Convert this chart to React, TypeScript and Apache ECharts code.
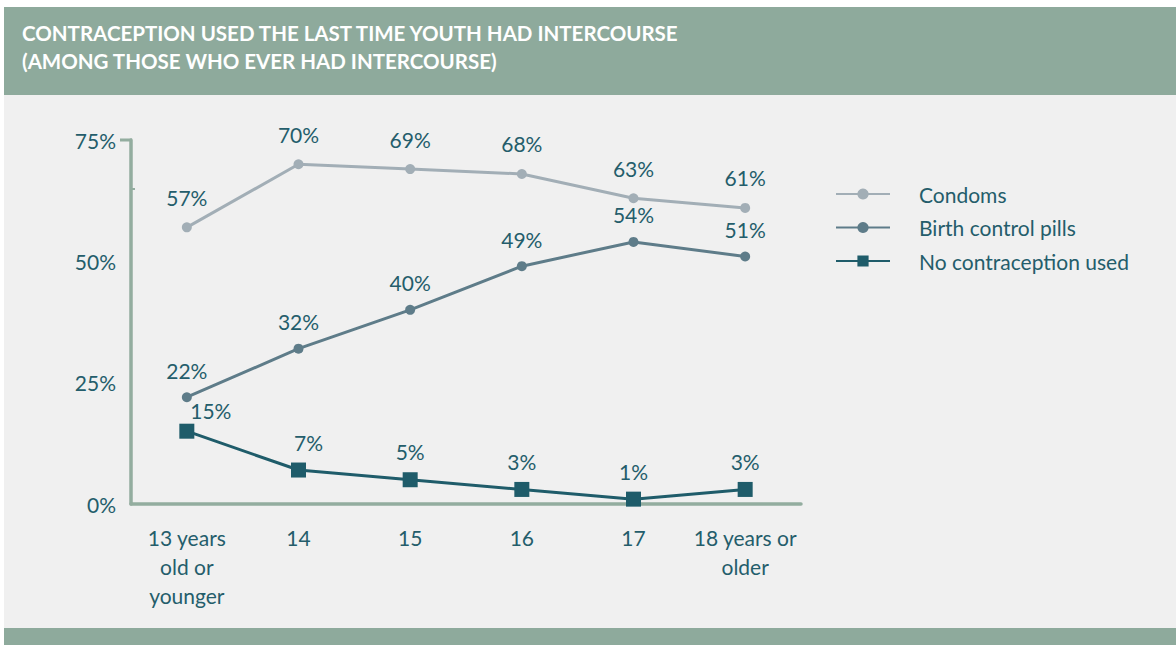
import React, { useEffect, useRef } from "react";
import * as echarts from "echarts";

const categories = ["13 years\nold or\nyounger", "14", "15", "16", "17", "18 years or\nolder"];
const condoms = [57, 70, 69, 68, 63, 61];
const birthControl = [22, 32, 40, 49, 54, 51];
const noContraception = [15, 7, 5, 3, 1, 3];
const yTicks = [0, 25, 50, 75];

const TEXT = "#245d6b";
const AXIS = "#93ad9f";
const FONT = "Lato, 'Open Sans', sans-serif";
const FS = 21;

export default function App() {
  const ref = useRef<HTMLDivElement>(null);
  useEffect(() => {
    if (!ref.current) return;
    const chart = echarts.init(ref.current, null, { renderer: "svg" });
    const label = (extra: any = {}) => ({
      show: true,
      position: "top",
      distance: 14,
      color: TEXT,
      fontSize: FS,
      fontFamily: FONT,
      formatter: "{c}%",
      ...extra,
    });
    chart.setOption({
      animation: false,
      backgroundColor: "#ffffff",
      textStyle: { fontFamily: FONT },
      graphic: [
        { type: "rect", z: -10, silent: true, shape: { x: 4, y: 95, width: 1172, height: 533 }, style: { fill: "#f0f0f0" } },
        { type: "rect", z: -10, silent: true, shape: { x: 4, y: 7, width: 1172, height: 88 }, style: { fill: "#8eaa9c" } },
        { type: "rect", z: -10, silent: true, shape: { x: 4, y: 628, width: 1172, height: 17 }, style: { fill: "#8eaa9c" } },
        {
          type: "text",
          left: 22,
          top: 19,
          style: {
            text: "CONTRACEPTION USED THE LAST TIME YOUTH HAD INTERCOURSE\n(AMONG THOSE WHO EVER HAD INTERCOURSE)",
            fill: "#ffffff",
            font: `bold 20.5px ${FONT}`,
            lineHeight: 28,
          },
        },
        { type: "line", shape: { x1: 120, y1: 140, x2: 132, y2: 140 }, style: { stroke: AXIS, lineWidth: 3 } },
        { type: "line", shape: { x1: 131, y1: 189, x2: 135, y2: 189 }, style: { stroke: AXIS, lineWidth: 2 } },
      ],
      legend: {
        orient: "vertical",
        left: 830,
        top: 177,
        itemWidth: 54,
        itemHeight: 14,
        itemGap: 9.5,
        textStyle: { color: TEXT, fontSize: FS, lineHeight: 24, fontFamily: FONT, padding: [0, 0, 0, 24] },
        data: [
          { name: "Condoms" },
          { name: "Birth control pills" },
          { name: "No contraception used" },
        ],
      },
      grid: { left: 131, right: 375, top: 140, bottom: 141, containLabel: false },
      xAxis: {
        type: "category",
        data: categories,
        boundaryGap: true,
        axisLine: { lineStyle: { color: AXIS, width: 3.5 } },
        axisTick: { alignWithLabel: true, length: 6, lineStyle: { color: AXIS, width: 2 } },
        axisLabel: { color: TEXT, fontSize: FS, fontFamily: FONT, lineHeight: 29, margin: 19, interval: 0 },
      },
      yAxis: {
        type: "value",
        min: yTicks[0],
        max: yTicks[yTicks.length - 1],
        interval: 25,
        axisLine: { show: true, lineStyle: { color: AXIS, width: 3.5 } },
        axisTick: { show: false },
        splitLine: { show: false },
        axisLabel: { color: TEXT, fontSize: FS, fontFamily: FONT, margin: 15, formatter: "{value}%" },
      },
      series: [
        {
          name: "Condoms",
          type: "line",
          data: condoms,
          symbol: "circle",
          symbolSize: 10,
          color: "#a2aeb6",
          lineStyle: { width: 3, color: "#a2aeb6" },
          itemStyle: { color: "#a2aeb6" },
          label: label({ distance: 14.5 }),
        },
        {
          name: "Birth control pills",
          type: "line",
          data: birthControl,
          symbol: "circle",
          symbolSize: 10,
          color: "#5e7c89",
          lineStyle: { width: 3, color: "#5e7c89" },
          itemStyle: { color: "#5e7c89" },
          label: label({ distance: 11.5 }),
        },
        {
          name: "No contraception used",
          type: "line",
          data: noContraception.map((v, i) =>
            i === 0 ? { value: v, label: { offset: [24, 7] } } : i === 1 ? { value: v, label: { offset: [10, 0] } } : v
          ),
          symbol: "rect",
          symbolSize: 15,
          color: "#1f5c6a",
          lineStyle: { width: 3, color: "#1f5c6a" },
          itemStyle: { color: "#1f5c6a" },
          label: label({ distance: 10 }),
        },
      ],
    });
    return () => chart.dispose();
  }, []);
  return (
    <div
      ref={ref}
      style={{ position: "absolute", left: 0, top: 0, width: 1176, height: 645 }}
    />
  );
}
